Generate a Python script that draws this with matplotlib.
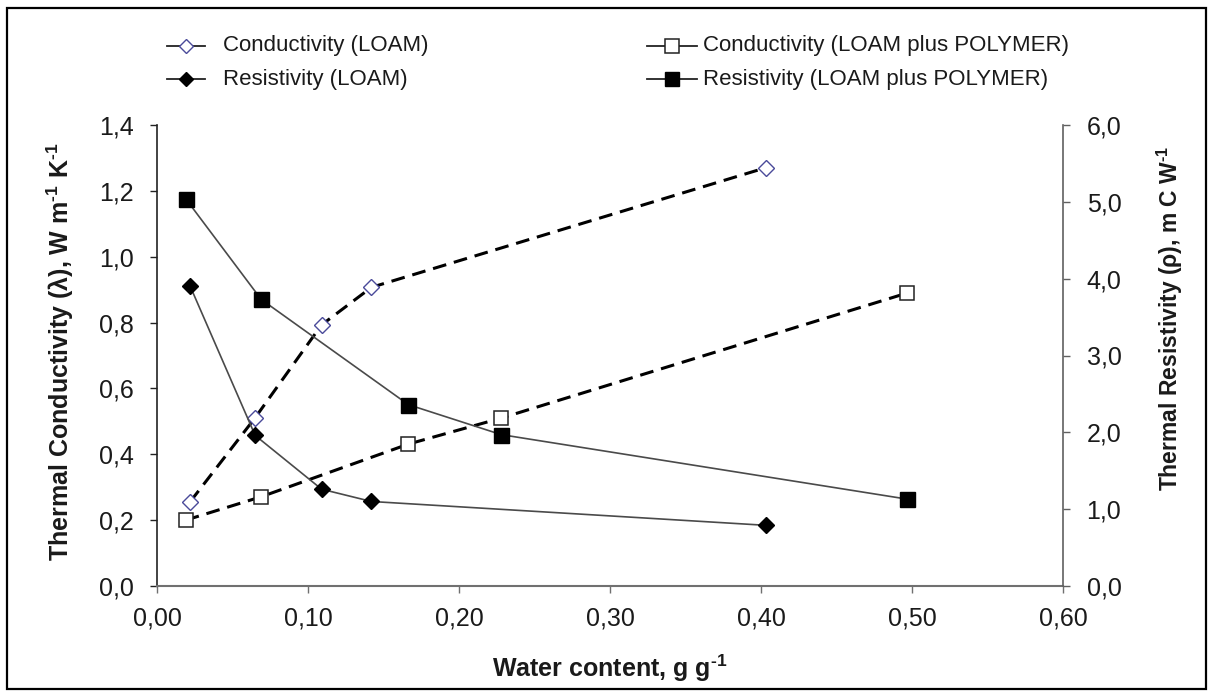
import matplotlib
matplotlib.use("Agg")
import matplotlib.pyplot as plt
from matplotlib.lines import Line2D
from matplotlib.patches import Rectangle
from matplotlib.ticker import FuncFormatter, MultipleLocator

plt.rcParams['font.family'] = ['Liberation Sans', 'DejaVu Sans']
plt.rcParams['mathtext.fontset'] = 'custom'
plt.rcParams['mathtext.rm'] = 'Liberation Sans:bold'
plt.rcParams['mathtext.bf'] = 'Liberation Sans:bold'
plt.rcParams['mathtext.it'] = 'Liberation Sans:italic'

# ---- data ----
water_loam = [0.022, 0.065, 0.109, 0.142, 0.403]
cond_loam = [0.256, 0.511, 0.793, 0.907, 1.27]
res_loam = [3.90, 1.96, 1.26, 1.10, 0.79]

water_poly = [0.019, 0.069, 0.1665, 0.228, 0.497]
cond_poly = [0.200, 0.271, 0.431, 0.51, 0.89]
res_poly = [5.04, 3.73, 2.36, 1.97, 1.13]

legend_labels = ["Conductivity (LOAM)", "Resistivity (LOAM)",
                 "Conductivity (LOAM plus POLYMER)", "Resistivity (LOAM plus POLYMER)"]

W, H = 1213, 695
fig = plt.figure(figsize=(W / 100, H / 100), dpi=100)
L, R, T, B = 157, 1063, 125, 586
ax = fig.add_axes([L / W, 1 - B / H, (R - L) / W, (B - T) / H])
ax2 = ax.twinx()

txt = '#1a1a1a'
dash = (0, (4.5, 2.6))

ax.plot(water_loam, cond_loam, color='black', lw=2.2, linestyle=dash, marker='D', ms=8,
        mfc='white', mec='#4a4a9a', mew=1.0, zorder=3)
ax.plot(water_poly, cond_poly, color='black', lw=2.2, linestyle=dash, marker='s', ms=10.5,
        mfc='white', mec='#222222', mew=1.1, zorder=3)
ax2.plot(water_loam, res_loam, color='#4a4a4a', lw=1.2, marker='D', ms=8,
         mfc='black', mec='black', zorder=3)
ax2.plot(water_poly, res_poly, color='#4a4a4a', lw=1.2, marker='s', ms=10.8,
         mfc='black', mec='black', zorder=3)

ax.set_xlim(0, 0.6)
ax.set_ylim(0, 1.4)
ax2.set_ylim(0, 6.0)
ax.xaxis.set_major_locator(MultipleLocator(0.1))
ax.yaxis.set_major_locator(MultipleLocator(0.2))
ax2.yaxis.set_major_locator(MultipleLocator(1.0))

ax.xaxis.set_major_formatter(FuncFormatter(lambda v, p: f"{v:.2f}".replace('.', ',')))
ax.yaxis.set_major_formatter(FuncFormatter(lambda v, p: f"{v:.1f}".replace('.', ',')))
ax2.yaxis.set_major_formatter(FuncFormatter(lambda v, p: f"{v:.1f}".replace('.', ',')))

for a in (ax, ax2):
    a.spines['top'].set_visible(False)
    a.set_facecolor('none')
ax.spines['right'].set_visible(False)
ax2.spines['left'].set_visible(False)
ax2.spines['bottom'].set_visible(False)
ax.spines['left'].set_color('#222222')
ax.spines['bottom'].set_color('#707070')
ax2.spines['right'].set_color('#606060')
ax.spines['bottom'].set_linewidth(1.5)
ax.spines['left'].set_linewidth(1.2)
ax2.spines['right'].set_linewidth(1.2)

ax.tick_params(axis='y', direction='out', length=5, width=1.0, pad=12, labelsize=18,
               colors='#222222', labelcolor=txt)
ax.tick_params(axis='x', direction='out', length=5, width=1.0, pad=10, labelsize=18,
               colors='#707070', labelcolor=txt)
ax2.tick_params(axis='y', direction='out', length=5, width=1.0, pad=12, labelsize=18,
                colors='#606060', labelcolor=txt)

fig.text(60 / W, 1 - 352 / H,
         r"Thermal Conductivity (λ), W m$^{\text{-1}}$ K$^{\text{-1}}$",
         rotation=90, ha='center', va='center', fontsize=18, fontweight='bold', color=txt)
fig.text(1170 / W, 1 - 318 / H,
         r"Thermal Resistivity (ρ), m C W$^{\text{-1}}$",
         rotation=90, ha='center', va='center', fontsize=16.5, fontweight='bold', color=txt)
fig.text(610 / W, 1 - 668 / H, r"Water content, g g$^{\text{-1}}$",
         ha='center', va='center', fontsize=18, fontweight='bold', color=txt)

# ---- legend (manual) ----
styles = [
    dict(marker='D', ms=7, mfc='white', mec='#4a4a9a', mew=1.0),
    dict(marker='D', ms=7, mfc='black', mec='black'),
    dict(marker='s', ms=9.5, mfc='white', mec='#222222', mew=1.1),
    dict(marker='s', ms=9.5, mfc='black', mec='black'),
]
pos = [(167, 205, 223, 46), (167, 205, 223, 79), (647, 697, 703, 46), (647, 697, 703, 79)]
for lab, st, (x0, x1, xt, y) in zip(legend_labels, styles, pos):
    yy = 1 - y / H
    fig.add_artist(Line2D([x0 / W, x1 / W], [yy, yy], color='#222222', lw=1.3))
    fig.add_artist(Line2D([(x0 + x1) / 2 / W], [yy], linestyle='none', **st))
    fig.text(xt / W, yy, lab, ha='left', va='center', fontsize=16, color=txt)

fig.add_artist(Rectangle((7 / W, 1 - 689 / H), 1199 / W, 681 / H, transform=fig.transFigure,
                         fill=False, edgecolor='black', lw=1.6))

fig.savefig("out.png", dpi=100)
